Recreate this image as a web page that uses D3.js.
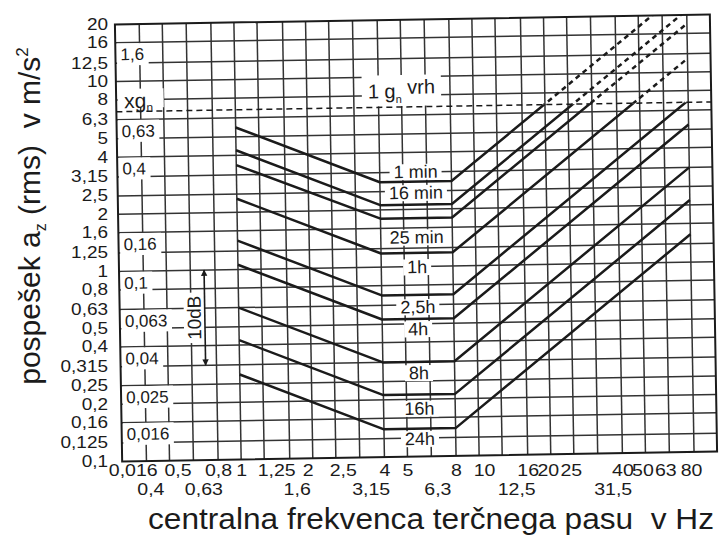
<!DOCTYPE html>
<html><head><meta charset="utf-8">
<script src="https://cdn.jsdelivr.net/npm/d3@7"></script>
<style>
html,body{margin:0;padding:0;background:#fff;}
svg{display:block;font-family:"Liberation Sans",Arial,Helvetica,sans-serif;}
</style>
</head><body>
<svg id="chart" width="719" height="536"></svg>
<script>
// ---------- data ----------
const bandFreqs = [0.315,0.4,0.5,0.63,0.8,1,1.25,1.6,2,2.5,3.15,4,5,6.3,8,10,12.5,16,20,25,31.5,40,50,63,80];
const gridEdgeFreqs = [0.3162, 100];
const xTickLabels = ["0,016","0,4","0,5","0,63","0,8","1","1,25","1,6","2","2,5","3,15","4","5","6,3","8","10","12,5","16","20","25","31,5","40","50","63","80"];
const lowerRowLabels = ["0,4","0,63","1,6","3,15","6,3","12,5","31,5"];
const yTicks = [0.1,0.125,0.16,0.2,0.25,0.315,0.4,0.5,0.63,0.8,1,1.25,1.6,2,2.5,3.15,4,5,6.3,8,10,12.5,16,20];
const yTickLabels = ["0,1","0,125","0,16","0,2","0,25","0,315","0,4","0,5","0,63","0,8","1","1,25","1,6","2","2,5","3,15","4","5","6,3","8","10","12,5","16","20"];
const durationLabels = ["1 min","16 min","25 min","1h","2,5h","4h","8h","16h","24h"];
const breakFreqs = [1, 4, 8, 80];
const accelAt1Hz  = [5.6, 4.25, 3.55, 2.36, 1.42, 1.06, 0.63, 0.425, 0.28];
const accelFlat   = [2.8, 2.12, 1.8, 1.18, 0.71, 0.53, 0.315, 0.212, 0.14];
const accelAt80Hz = [28, 21.2, 18, 11.8, 7.1, 5.3, 3.15, 2.12, 1.4];
const gScaleValues = [1.6, 0.63, 0.4, 0.16, 0.1, 0.063, 0.04, 0.025, 0.016];
const gScaleLabels = ["1,6","0,63","0,4","0,16","0,1","0,063","0,04","0,025","0,016"];
const gn = 9.81;
const peak1gRms = 6.94;
const tenDbRange = [1, 0.316];

// ---------- layout ----------
const L = 118.5, R = 713.5, T = 19.5, B = 456.5;
const cx = (L + R) / 2, cy = (T + B) / 2;
const tilt = -0.95;
const ink = "#1b1b1b", gridInk = "#333";
const stretch = "scale(1.15,1)";

const svg = d3.select("#chart");
const x = d3.scaleLog().domain(gridEdgeFreqs).range([L, R]);
const y = d3.scaleLog().domain([0.1, 20]).range([B, T]);

const defs = svg.append("defs");
defs.append("clipPath").attr("id", "clipPlot").append("rect")
  .attr("x", L).attr("y", T).attr("width", R - L).attr("height", B - T);
defs.append("clipPath").attr("id", "clipBelow").append("rect")
  .attr("x", L).attr("y", y(peak1gRms)).attr("width", R - L).attr("height", B - y(peak1gRms));
defs.append("clipPath").attr("id", "clipAbove").append("rect")
  .attr("x", L).attr("y", T).attr("width", R - L).attr("height", y(peak1gRms) - T);
const mk = defs.append("marker").attr("id", "arrowHead").attr("viewBox", "0 0 10 10")
  .attr("refX", 9).attr("refY", 5).attr("markerWidth", 4).attr("markerHeight", 6)
  .attr("orient", "auto-start-reverse").attr("markerUnits", "strokeWidth");
mk.append("path").attr("d", "M0,0 L10,5 L0,10 z").attr("fill", ink);

// ---------- plot group (slightly tilted like the scan) ----------
const g = svg.append("g").attr("transform", `rotate(${tilt} ${cx} ${cy})`);
const gridLayer = g.append("g");
const bgLayer = g.append("g");
const markLayer = g.append("g");
const textLayer = g.append("g");

// grid
gridLayer.append("g").selectAll("line").data(yTicks.slice(1, -1)).join("line")
  .attr("x1", L).attr("x2", R).attr("y1", d => y(d)).attr("y2", d => y(d))
  .attr("stroke", gridInk).attr("stroke-width", 1.5);
gridLayer.append("g").selectAll("line").data(bandFreqs.slice(1)).join("line")
  .attr("y1", T).attr("y2", B).attr("x1", d => x(d)).attr("x2", d => x(d))
  .attr("stroke", gridInk).attr("stroke-width", 1.5);

function backing(t, padX, padY, tr) {
  const bb = t.node().getBBox();
  const r = bgLayer.append("rect").attr("x", bb.x - padX).attr("y", bb.y - padY)
    .attr("width", bb.width + 2 * padX).attr("height", bb.height + 2 * padY).attr("fill", "#fff");
  if (tr) r.attr("transform", tr);
}

// inner g-scale labels with white backing
gScaleValues.forEach((v, i) => {
  const yy = y(v * gn) + 10;
  const t = textLayer.append("text").attr("x", L + 5).attr("y", yy).attr("dy", "0.35em")
    .attr("font-size", 17).attr("fill", ink).text(gScaleLabels[i]);
  const w = t.node().getComputedTextLength();
  bgLayer.append("rect").attr("x", L + 1.5).attr("y", yy - 11).attr("width", w + 8).attr("height", 22).attr("fill", "#fff");
});
// xg_n
const xgY = y(8) + 1;
bgLayer.append("rect").attr("x", L + 1.5).attr("y", xgY - 12).attr("width", 46).attr("height", 19).attr("fill", "#fff");
const xg = textLayer.append("text").attr("x", L + 8).attr("y", xgY).attr("dy", "0.35em").attr("font-size", 21).attr("fill", ink);
xg.append("tspan").text("xg");
xg.append("tspan").attr("font-size", 12).attr("dy", "0.3em").text("n");

// 1 g peak line
markLayer.append("line").attr("x1", L).attr("x2", R).attr("y1", y(peak1gRms)).attr("y2", y(peak1gRms))
  .attr("stroke", ink).attr("stroke-width", 1.5).attr("stroke-dasharray", "6,4");
const pkT = textLayer.append("text").attr("x", x(5)).attr("y", y(peak1gRms) - 16).attr("dy", "0.35em")
  .attr("text-anchor", "middle").attr("font-size", 20).attr("fill", ink);
pkT.append("tspan").text("1 g");
pkT.append("tspan").attr("font-size", 11).attr("dy", "0.45em").text("n");
pkT.append("tspan").attr("dy", "-0.45em").attr("font-size", 20).text(" vrh");
backing(pkT, 6, 1);

// curves
const line = d3.line().x(d => x(d[0])).y(d => y(d[1]));
const curveData = durationLabels.map((lab, i) => breakFreqs.map((f, j) =>
  [f, j === 0 ? accelAt1Hz[i] : (j === 3 ? accelAt80Hz[i] : accelFlat[i])]));
const cg = markLayer.append("g").attr("clip-path", "url(#clipPlot)");
cg.append("g").attr("clip-path", "url(#clipBelow)").selectAll("path").data(curveData).join("path")
  .attr("d", line).attr("fill", "none").attr("stroke", ink).attr("stroke-width", 2.5).attr("stroke-linejoin", "round");
cg.append("g").attr("clip-path", "url(#clipAbove)").selectAll("path").data(curveData).join("path")
  .attr("d", line).attr("fill", "none").attr("stroke", ink).attr("stroke-width", 2.5).attr("stroke-dasharray", "5,4");

// curve labels
const labelShift = [-10, -12, 19, 14, 12, 10, 11, 14, 10];
const labX = x(5.66);
durationLabels.forEach((lab, i) => {
  const yy = y(accelFlat[i]) + labelShift[i];
  const t = textLayer.append("text").attr("x", labX).attr("y", yy).attr("dy", "0.35em")
    .attr("text-anchor", "middle").attr("font-size", 18).attr("fill", ink).text(lab);
  backing(t, 4, -2);
});

// 10 dB arrow
const dbX = x(0.72);
const dbTr = `translate(${dbX - 4},${(y(tenDbRange[0]) + y(tenDbRange[1])) / 2}) rotate(-90)`;
const dbT = textLayer.append("text").attr("transform", dbTr)
  .attr("text-anchor", "middle").attr("font-size", 19).attr("fill", ink).text("10dB");
backing(dbT, 3, 0, dbTr);
markLayer.append("line").attr("x1", dbX).attr("x2", dbX).attr("y1", y(tenDbRange[1])).attr("y2", y(tenDbRange[0]))
  .attr("stroke", ink).attr("stroke-width", 1.6)
  .attr("marker-start", "url(#arrowHead)").attr("marker-end", "url(#arrowHead)");

// frame on top
markLayer.append("rect").attr("x", L).attr("y", T).attr("width", R - L).attr("height", B - T)
  .attr("fill", "none").attr("stroke", ink).attr("stroke-width", 2);

// ---------- axes ----------
const yAxis = d3.axisLeft(y).tickValues(yTicks).tickFormat((d, i) => yTickLabels[i]).tickSize(0).tickPadding(0);
const ya = svg.append("g").attr("transform", `translate(108,4.5)`).call(yAxis);
ya.select(".domain").remove();
ya.selectAll("text").attr("font-size", 16.5).attr("fill", ink)
  .attr("font-family", "Liberation Sans, Arial, sans-serif").attr("transform", stretch);

const xLabelNudge = {"0,016":11,"0,5":8,"1,25":12,"2":-5,"2,5":7,"10":5,"20":-3,"25":-3,"50":-3,"63":-4,"80":-3,
  "0,4":4,"0,63":10,"1,6":7,"3,15":11,"6,3":6,"12,5":14,"31,5":15};
const xAxis = d3.axisBottom(x).tickValues(bandFreqs).tickFormat((d, i) => xTickLabels[i]).tickSize(0);
const xa = svg.append("g").attr("transform", `translate(3.6,0)`).call(xAxis);
xa.select(".domain").remove();
xa.selectAll("text").attr("font-size", 17).attr("fill", ink)
  .attr("font-family", "Liberation Sans, Arial, sans-serif")
  .attr("dy", null)
  .attr("x", (d, i) => (xLabelNudge[xTickLabels[i]] || 0) / 1.15)
  .attr("y", (d, i) => lowerRowLabels.includes(xTickLabels[i]) ? 495.5 : 476)
  .attr("transform", stretch);

// titles
svg.append("text").attr("x", 431).attr("y", 529).attr("text-anchor", "middle")
  .attr("font-size", 30).attr("fill", ink).style("white-space", "pre")
  .attr("textLength", 566).attr("lengthAdjust", "spacingAndGlyphs")
  .text("centralna frekvenca terčnega pasu  v Hz");
const yt = svg.append("text").attr("transform", "translate(40,216) rotate(-90)").attr("text-anchor", "middle")
  .attr("font-size", 30).attr("fill", ink).style("white-space", "pre");
yt.append("tspan").text("pospešek a");
yt.append("tspan").attr("font-size", 16).attr("dy", 6).text("z");
yt.append("tspan").attr("dy", -6).text(" (rms)  v m/s");
yt.append("tspan").attr("font-size", 17).attr("dy", -12).text("2");
</script>
</body></html>
